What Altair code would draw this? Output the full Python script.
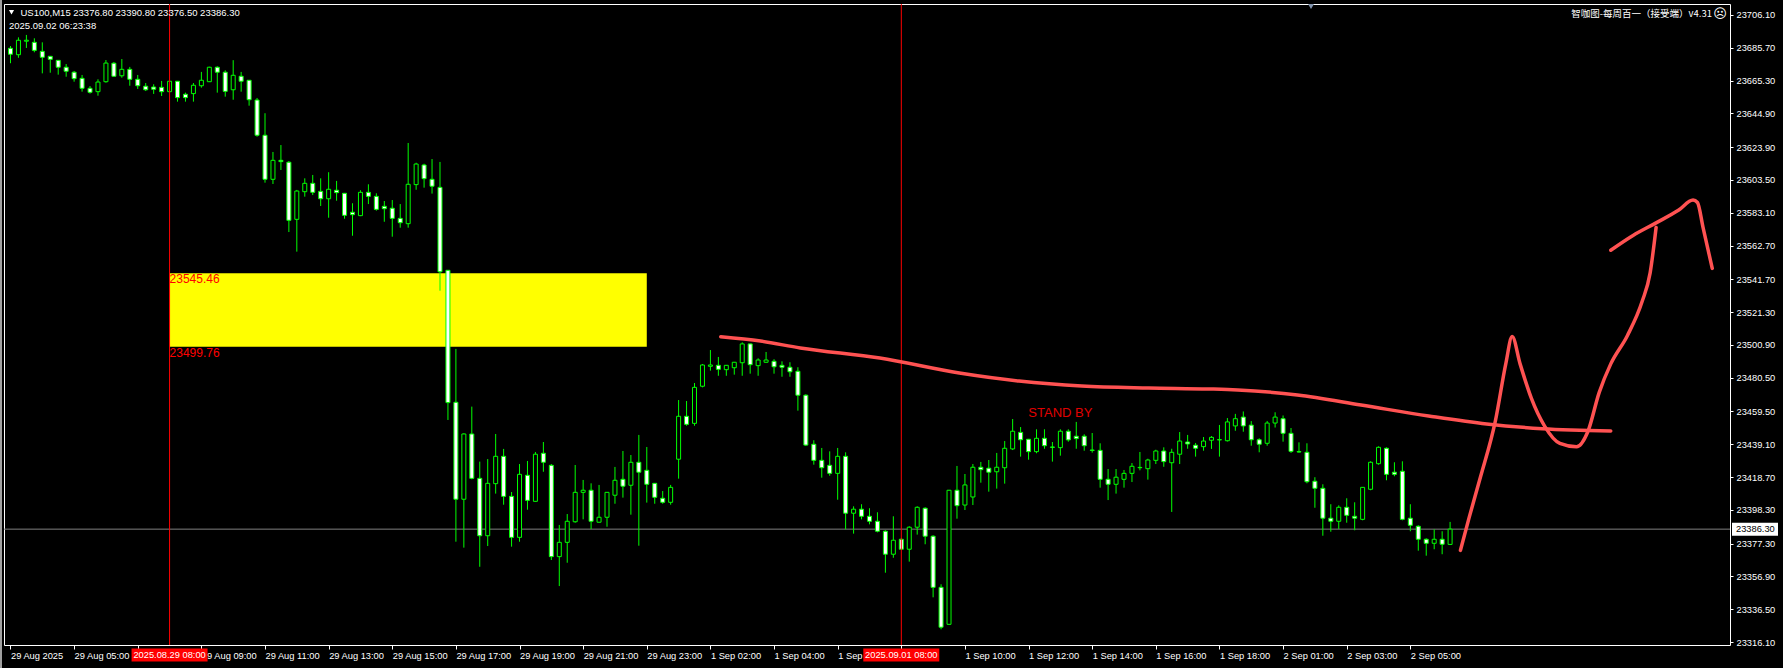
import json
import altair as alt
import pandas as pd

# ---- US100 M15 candles, 29 Aug 2025 03:00 .. 2 Sep 2025 06:15 ----
opens = [
    23685.4, 23681.4, 23689.8, 23689.1, 23683.5, 23680.4, 23677.9, 23673.6, 23670.5, 23666.7,
    23660.5, 23658.4, 23664.6, 23676.1, 23668.3, 23672.3, 23666.1, 23661.8, 23661.3, 23661.1,
    23658.4, 23664.9, 23656.8, 23657.2, 23662.1, 23664.6, 23673.6, 23670.5, 23659.6, 23668.0,
    23665.5, 23653.2, 23631.3, 23603.9, 23615.7, 23614.5, 23579.0, 23596.2, 23601.4, 23596.4,
    23591.8, 23597.1, 23595.2, 23583.4, 23581.3, 23595.8, 23593.3, 23587.1, 23585.9, 23579.6,
    23576.3, 23600.6, 23612.8, 23603.9, 23598.9, 23547.3, 23465.2, 23404.9, 23445.5, 23417.9,
    23382.2, 23414.6, 23431.6, 23406.7, 23381.2, 23419.8, 23403.6, 23433.5, 23426.0, 23369.2,
    23378.1, 23390.9, 23409.2, 23410.5, 23390.6, 23393.7, 23407.4, 23417.3, 23413.6, 23427.9,
    23422.9, 23414.8, 23405.5, 23403.0, 23429.8, 23456.5, 23452.1, 23475.2, 23487.6, 23488.2,
    23485.5, 23486.7, 23489.8, 23501.5, 23488.0, 23490.1, 23490.7, 23488.2, 23487.0, 23484.5,
    23469.6, 23439.1, 23429.1, 23426.0, 23421.0, 23431.6, 23396.2, 23398.7, 23394.3, 23391.2,
    23385.0, 23370.7, 23380.0, 23373.8, 23387.5, 23399.3, 23381.9, 23350.1, 23327.1, 23410.5,
    23401.3, 23406.3, 23424.8, 23424.2, 23422.0, 23424.5, 23436.2, 23446.5, 23442.2, 23434.5,
    23442.8, 23437.4, 23437.0, 23447.2, 23444.1, 23444.1, 23435.5, 23435.3, 23417.3, 23414.2,
    23417.3, 23421.0, 23424.5, 23423.9, 23429.1, 23434.9, 23427.6, 23432.9, 23440.5, 23438.5,
    23437.6, 23441.6, 23441.8, 23441.3, 23450.5, 23456.0, 23451.0, 23441.9, 23439.7, 23452.3,
    23455.0, 23445.9, 23434.5, 23434.1, 23416.1, 23411.7, 23393.1, 23391.2, 23399.9, 23394.3,
    23392.4, 23411.1, 23427.0, 23436.6, 23421.7, 23422.3, 23393.1, 23388.1, 23380.0, 23377.5,
    23380.0, 23376.8,
]
highs = [
    23686.8, 23692.2, 23693.7, 23691.6, 23689.1, 23680.6, 23678.1, 23675.6, 23671.3, 23668.8,
    23661.9, 23666.1, 23678.1, 23676.9, 23678.7, 23673.8, 23668.8, 23663.8, 23663.0, 23665.1,
    23665.2, 23665.0, 23657.8, 23663.8, 23670.7, 23673.9, 23674.2, 23671.7, 23678.0, 23670.7,
    23665.6, 23654.5, 23645.0, 23620.9, 23625.2, 23615.3, 23597.3, 23604.5, 23606.6, 23604.5,
    23608.3, 23602.9, 23595.4, 23589.0, 23597.1, 23600.8, 23595.2, 23590.4, 23591.0, 23588.5,
    23626.5, 23614.2, 23613.6, 23616.5, 23614.7, 23547.5, 23498.4, 23445.9, 23462.5, 23428.3,
    23429.9, 23445.5, 23436.2, 23409.4, 23426.8, 23428.7, 23434.3, 23440.5, 23426.8, 23388.9,
    23395.7, 23426.2, 23416.9, 23414.8, 23413.8, 23409.4, 23425.0, 23434.9, 23432.4, 23444.9,
    23437.4, 23415.0, 23410.0, 23413.8, 23466.6, 23466.0, 23477.2, 23489.0, 23497.7, 23493.4,
    23488.4, 23490.3, 23502.5, 23501.7, 23492.6, 23496.5, 23492.0, 23490.7, 23490.1, 23487.0,
    23470.2, 23441.6, 23436.8, 23434.7, 23436.8, 23434.1, 23400.5, 23401.8, 23399.3, 23396.8,
    23385.6, 23394.3, 23380.8, 23388.1, 23400.5, 23399.9, 23382.5, 23352.0, 23410.7, 23425.6,
    23420.6, 23426.8, 23428.1, 23429.3, 23433.7, 23441.1, 23454.8, 23449.8, 23442.4, 23448.4,
    23448.4, 23440.5, 23448.4, 23448.4, 23453.0, 23445.3, 23446.1, 23439.7, 23423.7, 23423.7,
    23423.1, 23427.4, 23434.3, 23430.1, 23435.7, 23437.2, 23436.3, 23446.7, 23444.9, 23439.9,
    23443.6, 23444.2, 23451.1, 23455.4, 23458.0, 23459.5, 23453.5, 23442.8, 23453.6, 23459.0,
    23457.0, 23449.2, 23440.3, 23439.7, 23418.6, 23414.2, 23401.8, 23401.1, 23405.5, 23403.0,
    23412.5, 23428.5, 23437.8, 23437.2, 23427.9, 23428.5, 23401.8, 23388.7, 23380.6, 23386.2,
    23385.0, 23390.8,
]
lows = [
    23676.1, 23679.5, 23685.6, 23682.9, 23669.8, 23670.2, 23669.0, 23667.7, 23664.6, 23658.4,
    23657.2, 23655.9, 23664.0, 23667.7, 23667.1, 23662.1, 23660.1, 23658.8, 23657.0, 23655.7,
    23658.0, 23652.2, 23652.2, 23652.2, 23660.9, 23664.4, 23657.8, 23655.3, 23653.4, 23658.4,
    23649.7, 23630.4, 23601.8, 23601.0, 23609.7, 23571.1, 23558.9, 23593.1, 23594.1, 23587.3,
    23580.0, 23590.6, 23579.4, 23568.8, 23581.0, 23588.5, 23584.4, 23577.5, 23568.2, 23573.8,
    23573.8, 23597.4, 23598.7, 23595.0, 23534.6, 23454.2, 23378.5, 23374.8, 23417.3, 23362.9,
    23375.8, 23408.4, 23401.5, 23375.4, 23378.5, 23398.4, 23403.4, 23422.0, 23367.1, 23350.9,
    23365.4, 23390.3, 23392.4, 23386.4, 23390.4, 23387.8, 23402.1, 23405.9, 23395.3, 23376.0,
    23402.8, 23402.1, 23402.1, 23401.5, 23417.7, 23450.6, 23450.6, 23474.5, 23484.9, 23481.7,
    23481.7, 23482.4, 23481.7, 23483.0, 23481.7, 23489.9, 23483.0, 23481.1, 23481.1, 23460.0,
    23438.0, 23426.4, 23418.3, 23419.5, 23404.6, 23386.2, 23383.5, 23392.4, 23389.3, 23384.3,
    23359.2, 23368.5, 23373.3, 23366.1, 23382.9, 23376.9, 23343.9, 23324.0, 23326.8, 23392.8,
    23398.2, 23401.3, 23415.2, 23409.6, 23411.5, 23414.6, 23435.5, 23431.4, 23429.5, 23433.5,
    23436.3, 23428.3, 23432.0, 23440.7, 23436.3, 23435.1, 23433.9, 23412.1, 23404.4, 23408.4,
    23412.1, 23415.6, 23422.9, 23417.1, 23426.8, 23425.1, 23397.0, 23426.8, 23436.3, 23431.4,
    23435.1, 23436.2, 23431.4, 23440.8, 23447.5, 23446.9, 23438.2, 23434.1, 23438.2, 23449.5,
    23440.7, 23433.7, 23433.9, 23414.8, 23399.6, 23382.2, 23384.7, 23386.4, 23390.3, 23385.6,
    23391.8, 23410.5, 23426.4, 23416.7, 23419.2, 23391.8, 23385.0, 23372.9, 23369.8, 23373.8,
    23370.7, 23376.5,
]
closes = [
    23681.7, 23690.4, 23690.4, 23684.1, 23679.8, 23678.5, 23673.6, 23671.1, 23666.5, 23660.5,
    23658.0, 23664.4, 23676.2, 23668.0, 23672.3, 23666.1, 23662.1, 23659.6, 23659.9, 23658.4,
    23664.9, 23654.7, 23654.7, 23662.4, 23665.5, 23673.6, 23670.5, 23658.6, 23668.6, 23664.9,
    23653.4, 23631.3, 23603.9, 23615.7, 23614.9, 23578.4, 23596.6, 23601.4, 23595.8, 23591.8,
    23597.7, 23595.6, 23581.5, 23581.9, 23595.8, 23593.3, 23585.2, 23585.6, 23579.6, 23576.9,
    23600.8, 23613.4, 23604.3, 23599.6, 23546.4, 23465.0, 23404.9, 23445.5, 23417.9, 23382.2,
    23414.8, 23431.6, 23406.7, 23381.2, 23420.4, 23404.2, 23432.9, 23427.9, 23369.2, 23378.1,
    23391.2, 23409.2, 23410.5, 23391.2, 23393.7, 23409.2, 23416.7, 23413.0, 23427.9, 23421.7,
    23414.2, 23406.1, 23403.0, 23412.3, 23456.5, 23451.5, 23474.5, 23488.4, 23488.4, 23485.7,
    23488.2, 23490.1, 23501.5, 23488.6, 23491.5, 23491.5, 23487.3, 23487.0, 23484.2, 23469.6,
    23438.6, 23429.1, 23424.5, 23421.0, 23431.6, 23396.2, 23398.7, 23394.3, 23391.2, 23385.0,
    23370.7, 23379.4, 23373.8, 23387.5, 23399.9, 23381.9, 23350.1, 23325.3, 23410.5, 23400.9,
    23413.8, 23424.8, 23423.3, 23421.7, 23424.8, 23436.6, 23447.2, 23441.9, 23434.5, 23442.8,
    23438.2, 23437.2, 23447.2, 23441.8, 23442.6, 23438.2, 23435.3, 23417.3, 23414.2, 23418.6,
    23421.0, 23425.4, 23424.7, 23429.3, 23434.9, 23428.3, 23434.1, 23441.1, 23439.3, 23436.6,
    23441.1, 23443.4, 23442.0, 23453.0, 23455.0, 23450.5, 23441.9, 23439.1, 23452.3, 23456.0,
    23445.9, 23434.7, 23434.3, 23415.8, 23411.7, 23393.1, 23391.2, 23399.9, 23394.9, 23393.1,
    23412.3, 23427.9, 23437.2, 23420.4, 23420.4, 23392.4, 23388.7, 23380.0, 23377.5, 23380.0,
    23376.9, 23386.3,
]

# time axis: one label every 8 bars (2 hours); labels sitting under a
# time stamp are left empty
x_ticks = list(range(0, 177, 8))
x_labels = [
    "29 Aug 2025", "29 Aug 05:00", "", "29 Aug 09:00", "29 Aug 11:00",
    "29 Aug 13:00", "29 Aug 15:00", "29 Aug 17:00", "29 Aug 19:00", "29 Aug 21:00",
    "29 Aug 23:00", "1 Sep 02:00", "1 Sep 04:00", "1 Sep 06:00", "",
    "1 Sep 10:00", "1 Sep 12:00", "1 Sep 14:00", "1 Sep 16:00", "1 Sep 18:00",
    "2 Sep 01:00", "2 Sep 03:00", "2 Sep 05:00",
]
y_ticks = [
    23706.10, 23685.70, 23665.30, 23644.90, 23623.90, 23603.50, 23583.10, 23562.70,
    23541.70, 23521.30, 23500.90, 23480.50, 23459.50, 23439.10, 23418.70, 23398.30,
    23377.30, 23356.90, 23336.50, 23316.10,
]

# vertical time markers (bar index) and their stamps
vline_idx = [20, 112]
vline_text = ["2025.08.29 08:00", "2025.09.01 08:00"]

# supply/demand zone
zone_start, zone_end = 20, 80
zone_top, zone_bottom = 23545.46, 23499.76

bid_price = 23386.30
header_line1 = "US100,M15  23376.80 23390.80 23376.50 23386.30"
header_line2 = "2025.09.02 06:23:38"
ea_title = "智咖图-每周百一（接受端）v4.31"

# hand-drawn trend line and forecast path (bar index, price)
trend_idx = [89.3, 94.3, 99.3, 109.3, 119.3, 126.8, 134.7, 143.1, 150.6, 154.3,
             161.8, 169.8, 178.3, 185.6, 192.6, 201.2]
trend_px = [23506.0, 23503.3, 23499.0, 23492.7, 23483.4, 23478.4, 23475.3, 23474.1,
            23473.5, 23472.9, 23469.7, 23463.5, 23456.7, 23451.7, 23448.8, 23447.4]
path_idx = [182.3, 183.4, 184.8, 186.7, 188.0, 188.8, 189.8, 191.2, 192.9, 194.8,
            196.9, 198.3, 199.75, 201.2, 203.3, 205.15, 206.15, 206.9]
path_px = [23373.1, 23393.6, 23418.4, 23453.8, 23489.1, 23506.1, 23489.1, 23467.9,
           23450.2, 23439.6, 23437.5, 23446.7, 23471.4, 23489.1, 23506.8, 23528.0,
           23545.7, 23574.0]
hook_idx = [201.2, 204.0, 206.9, 209.7, 211.55, 212.1, 212.8, 213.96]
hook_px = [23559.8, 23569.0, 23576.8, 23584.6, 23591.0, 23589.5, 23574.0, 23548.5]

FONT = "Liberation Sans"
GREEN = "#00FF00"
PEN = "#FF5252"

bars = pd.DataFrame({
    "i": list(range(len(opens))),
    "open": opens, "high": highs, "low": lows, "close": closes,
})

x_scale = alt.Scale(domain=[-0.1875, 215.5625], nice=False, zero=False)
y_scale = alt.Scale(domain=[23314.24, 23712.94], nice=False, zero=False)

x_axis = alt.Axis(
    values=x_ticks, labelExpr=json.dumps(x_labels) + "[round(datum.value / 8)]",
    labelAlign="left", labelBaseline="top", labelColor="white", labelFont=FONT,
    labelFontSize=9.3, labelPadding=2, tickColor="white", tickSize=4,
    domain=False, grid=False, labelFlush=False, labelOverlap=False, labelBound=False,
    title=None,
)
y_axis = alt.Axis(
    orient="right", values=y_ticks, format=".2f", labelAlign="left",
    labelBaseline="middle", labelColor="white", labelFont=FONT, labelFontSize=9.3,
    labelPadding=3, tickColor="white", tickSize=3, domain=False, grid=False,
    labelFlush=False, labelOverlap=False, labelBound=False, title=None,
)


def X(field):
    return alt.X(field, scale=x_scale, axis=x_axis)


def Y(field):
    return alt.Y(field, scale=y_scale, axis=y_axis)


# zone rectangle and its price tags
zone = pd.DataFrame({"a": [zone_start], "b": [zone_end], "top": [zone_top], "bot": [zone_bottom]})
zone_rect = alt.Chart(zone).mark_rect(color="#FFFF00").encode(
    x=X("a:Q"), x2="b:Q", y=Y("top:Q"), y2="bot:Q")
zone_tags = pd.DataFrame({"a": [zone_start, zone_start], "p": [zone_top, zone_bottom],
                          "t": [f"{zone_top:.2f}", f"{zone_bottom:.2f}"]})
zone_text = alt.Chart(zone_tags).mark_text(
    color="#FF0000", align="left", baseline="top", font=FONT, fontSize=12, dy=1
).encode(x=X("a:Q"), y=Y("p:Q"), text="t:N")

# bid line
bid = pd.DataFrame({"p": [bid_price], "t": [f"{bid_price:.2f}"]})
bid_line = alt.Chart(bid).mark_rule(color="#808080", strokeWidth=1).encode(y=Y("p:Q"))

# candles
wicks = alt.Chart(bars).mark_rule(color=GREEN, strokeWidth=1).encode(
    x=X("i:Q"), y=Y("low:Q"), y2="high:Q")
bodies = alt.Chart(bars).mark_bar(width=4, stroke=GREEN, strokeWidth=1).encode(
    x=X("i:Q"), y=Y("open:Q"), y2="close:Q",
    fill=alt.condition("datum.close < datum.open", alt.value("white"), alt.value("black")),
)

# vertical markers
vl = pd.DataFrame({"i": vline_idx, "t": vline_text})
vlines = alt.Chart(vl).mark_rule(color="#FF0000", strokeWidth=1).encode(x=X("i:Q"))
vl_box = alt.Chart(vl).mark_tick(
    orient="horizontal", size=76, thickness=13, color="#FF0000", opacity=1
).encode(x=X("i:Q"), y=alt.value(651))
vl_txt = alt.Chart(vl).mark_text(
    color="white", font=FONT, fontSize=9.3, align="center", baseline="middle"
).encode(x=X("i:Q"), y=alt.value(651), text="t:N")

# hand-drawn strokes
strokes = pd.DataFrame({
    "i": trend_idx + path_idx + hook_idx,
    "p": trend_px + path_px + hook_px,
    "seg": ["trend"] * len(trend_idx) + ["path"] * len(path_idx) + ["hook"] * len(hook_idx),
    "k": list(range(len(trend_idx))) + list(range(len(path_idx))) + list(range(len(hook_idx))),
})
pen = alt.Chart(strokes).mark_line(
    color=PEN, strokeWidth=3.5, strokeCap="round", strokeJoin="round", interpolate="monotone"
).encode(x=X("i:Q"), y=Y("p:Q"), detail="seg:N", order="k:Q")

stand_by = alt.Chart(pd.DataFrame({"i": [132.0], "p": [23458.5], "t": ["STAND BY"]})).mark_text(
    color="#E00000", font=FONT, fontSize=13, align="center", baseline="middle"
).encode(x=X("i:Q"), y=Y("p:Q"), text="t:N")

# current price tag on the price scale
bid_box = alt.Chart(bid).mark_tick(
    orient="horizontal", size=46, thickness=13, color="white", opacity=1
).encode(x=alt.value(1751), y=Y("p:Q"))
bid_txt = alt.Chart(bid).mark_text(
    color="black", font=FONT, fontSize=9.3, align="left", baseline="middle"
).encode(x=alt.value(1732), y=Y("p:Q"), text="t:N")

# header
hdr = alt.Chart(pd.DataFrame({"t": [header_line1]})).mark_text(
    color="white", font=FONT, fontSize=9.5, align="left", baseline="middle"
).encode(x=alt.value(16.5), y=alt.value(8.7), text="t:N")
hdr_arrow = alt.Chart(pd.DataFrame({"t": ["v"]})).mark_point(
    shape="triangle-down", filled=True, color="white", size=26, opacity=1
).encode(x=alt.value(7.5), y=alt.value(8.2))
hdr2 = alt.Chart(pd.DataFrame({"t": [header_line2]})).mark_text(
    color="white", font=FONT, fontSize=9.5, align="left", baseline="middle"
).encode(x=alt.value(5), y=alt.value(21.7), text="t:N")
ea = alt.Chart(pd.DataFrame({"t": [ea_title]})).mark_text(
    color="white", font="Noto Sans CJK SC", fontSize=9.5, align="right", baseline="middle"
).encode(x=alt.value(1708), y=alt.value(10), text="t:N")
face = alt.Chart(pd.DataFrame({"t": ["☹"]})).mark_text(
    color="white", font="DejaVu Sans", fontSize=13, align="center", baseline="middle"
).encode(x=alt.value(1716), y=alt.value(10), text="t:N")
shift_mark = alt.Chart(pd.DataFrame({"t": ["s"]})).mark_point(
    shape="triangle-down", filled=True, color="#8193AD", size=36, opacity=1
).encode(x=alt.value(1307), y=alt.value(2.5))

# window edge on the far left
edge = alt.Chart(pd.DataFrame({"t": ["e"]})).mark_rule(color="#A0A0A0", strokeWidth=2).encode(
    x=alt.value(-3), y=alt.value(-4), y2=alt.value(664))

chart = alt.layer(
    zone_rect, bid_line, wicks, bodies, vlines, zone_text, stand_by, pen,
    bid_box, bid_txt, vl_box, vl_txt, hdr_arrow, hdr, hdr2, ea, face, shift_mark, edge,
).properties(
    width=1726, height=641, background="black",
    padding={"left": 4, "top": 4, "right": 53, "bottom": 23},
    autosize=alt.AutoSizeParams(type="none"),
).configure_view(stroke="white", strokeWidth=1)

chart.save("out.html", embed_options={"renderer": "svg", "actions": False})
